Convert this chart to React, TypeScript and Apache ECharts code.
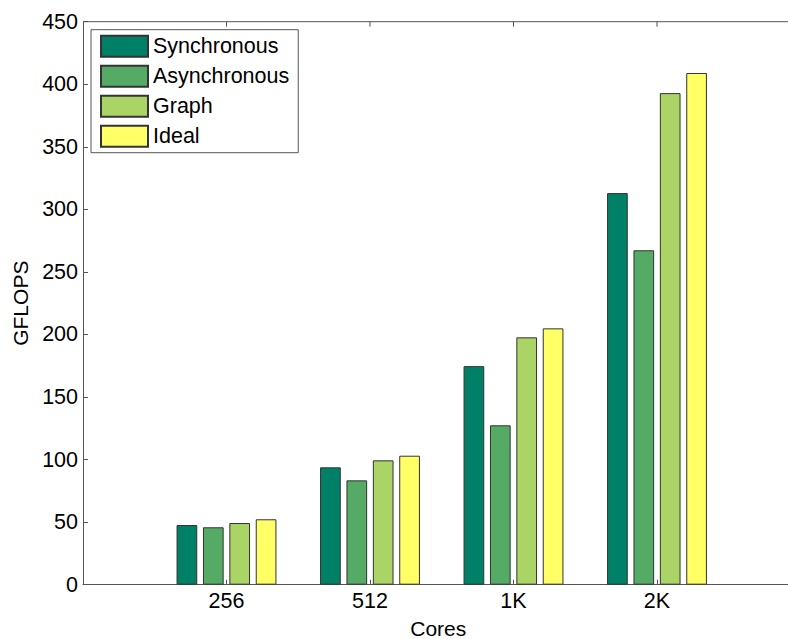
import React, { useEffect, useRef } from "react";
import * as echarts from "echarts";

const categories = ["256", "512", "1K", "2K"];
const seriesNames = ["Synchronous", "Asynchronous", "Graph", "Ideal"];
const synchronous = [47.7, 93.8, 174.7, 313];
const asynchronous = [45.9, 83.4, 127.4, 267.3];
const graph = [49.3, 99.4, 197.7, 392.9];
const ideal = [52.3, 103.1, 204.9, 409];
const colors = ["#008066", "#55aa66", "#aad466", "#ffff66"];
const yTicks = { min: 0, max: 450, interval: 50 };

const FONT = "'Liberation Sans', Arial, sans-serif";

export default function App() {
  const ref = useRef<HTMLDivElement>(null);
  useEffect(() => {
    document.body.style.margin = "0";
    if (!ref.current) return;
    const chart = echarts.init(ref.current, null, { renderer: "svg" });
    const values = [synchronous, asynchronous, graph, ideal];
    const axisLineStyle = { color: "#555", width: 1 };
    const xMax = categories.length + 1;
    chart.setOption({
      animation: false,
      backgroundColor: "#fff",
      textStyle: { fontFamily: FONT },
      grid: {
        left: 83,
        top: 21.7,
        width: 717.5,
        height: 563,
        containLabel: false,
        outerBoundsMode: "none",
      },
      legend: {
        orient: "vertical",
        left: 91,
        top: 29.7,
        icon: "rect",
        itemWidth: 47,
        itemHeight: 21,
        itemGap: 7,
        padding: [5, 9, 5, 9],
        borderColor: "#555",
        borderWidth: 1,
        backgroundColor: "#fff",
        textStyle: { fontSize: 21.5, lineHeight: 21, color: "#000", fontFamily: FONT },
        data: seriesNames,
      },
      xAxis: {
        type: "value",
        min: 0,
        max: xMax,
        interval: 1,
        name: "Cores",
        nameLocation: "middle",
        nameGap: 33,
        nameTextStyle: { fontSize: 21, color: "#000", fontFamily: FONT, padding: [0, 7, 0, 0] },
        axisLine: { show: true, lineStyle: axisLineStyle },
        axisTick: { show: true, inside: true, length: 5, lineStyle: axisLineStyle },
        axisLabel: {
          fontSize: 21.5,
          color: "#000",
          margin: 5,
          fontFamily: FONT,
          formatter: (v: number) => {
            const i = Math.round(v) - 1;
            return i >= 0 && i < categories.length ? categories[i] : "";
          },
        },
        splitLine: { show: false },
      },
      yAxis: {
        type: "value",
        min: yTicks.min,
        max: yTicks.max,
        interval: yTicks.interval,
        name: "GFLOPS",
        nameLocation: "middle",
        nameGap: 50,
        nameTextStyle: { fontSize: 21, color: "#000", fontFamily: FONT },
        axisLine: { show: true, lineStyle: axisLineStyle },
        axisTick: { show: true, inside: true, length: 5, lineStyle: axisLineStyle },
        axisLabel: { fontSize: 21.5, color: "#000", margin: 5, fontFamily: FONT },
        splitLine: { show: false },
      },
      series: seriesNames.map((name, s) => ({
        name,
        type: "bar",
        barWidth: 20.7,
        barGap: "27.5%",
        itemStyle: { color: colors[s], borderColor: "#333", borderWidth: 1 },
        data: values[s].map((v, i) => [i + 1, v]),
      })),
    });

    // top frame of the axes box with inward ticks, positioned through the axis scales
    const topY = chart.convertToPixel({ yAxisIndex: 0 }, yTicks.max) as number;
    const x0 = chart.convertToPixel({ xAxisIndex: 0 }, 0) as number;
    const x1 = chart.convertToPixel({ xAxisIndex: 0 }, xMax) as number;
    const frameStyle = { stroke: "#555", lineWidth: 1 };
    chart.setOption({
      graphic: [
        {
          type: "line",
          silent: true,
          z: 50,
          shape: { x1: x0, y1: topY, x2: x1, y2: topY },
          style: frameStyle,
        },
        ...categories.map((_, i) => {
          const px = chart.convertToPixel({ xAxisIndex: 0 }, i + 1) as number;
          return {
            type: "line",
            silent: true,
            z: 50,
            shape: { x1: px, y1: topY, x2: px, y2: topY + 5 },
            style: frameStyle,
          };
        }),
      ],
    });
    return () => chart.dispose();
  }, []);
  return <div ref={ref} style={{ width: 788, height: 639 }} />;
}
